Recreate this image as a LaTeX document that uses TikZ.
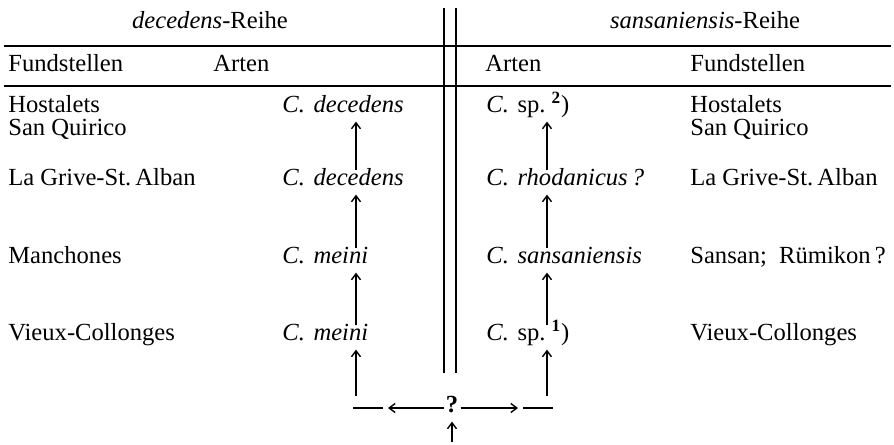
\documentclass[tikz,border=0pt]{standalone}
\usepackage{fontspec}
\setmainfont{Liberation Serif}
\usepackage{tikz}
\usetikzlibrary{arrows.meta, positioning}

\newcommand{\Cgen}{\textit{C.}\hspace{0.35em}}

\begin{document}
\begin{tikzpicture}[
  every node/.style={font=\fontsize{14}{16}\selectfont, inner sep=0pt,
                     text height=0.72em, text depth=0.22em},
  ort/.style={anchor=west},
  art/.style={anchor=west},
  rule/.style={line width=1pt},
  arr/.style={-{Straight Barb[length=1.2mm, width=1.8mm]}, line width=0.8pt,
              shorten >=0.1cm, shorten <=0.04cm},
  plain/.style={line width=0.8pt},
]
  \useasboundingbox (0,0) rectangle (17.88,-8.88);

  % head of the table
  \node (hleft)  at (4.2,-0.48)  {\textit{decedens}-Reihe};
  \node (hright) at (14.1,-0.48) {\textit{sansaniensis}-Reihe};
  \node[ort] (fl) at (0.16,-1.34)  {Fundstellen};
  \node[art] (al) at (4.26,-1.34)  {Arten};
  \node[art] (ar) at (9.7,-1.34)   {Arten};
  \node[ort] (fr) at (13.8,-1.34)  {Fundstellen};

  \draw[rule] (0.08,-0.92) -- (17.82,-0.92);
  \draw[rule] (0.08,-1.72) -- (17.82,-1.72);
  \draw[line width=0.8pt] (8.88,-0.16) -- (8.88,-7.46);
  \draw[line width=1.2pt] (9.12,-0.16) -- (9.12,-7.46);

  % left side
  \node[ort] (lo1)  at (0.16,-2.16) {Hostalets};
  \node[ort] (lo1b) at (0.16,-2.62) {San Quirico};
  \node[ort] (lo2)  at (0.16,-3.62) {La Grive-St.\,Alban};
  \node[ort] (lo3)  at (0.16,-5.18) {Manchones};
  \node[ort] (lo4)  at (0.16,-6.72) {Vieux-Collonges};

  \node[art] (la1) at (5.64,-2.16) {\Cgen\textit{decedens}};
  \node[art] (la2) at (5.64,-3.62) {\Cgen\textit{decedens}};
  \node[art] (la3) at (5.64,-5.18) {\Cgen\textit{meini}};
  \node[art] (la4) at (5.64,-6.72) {\Cgen\textit{meini}};

  % right side
  \node[art] (ra1) at (9.72,-2.16) {\Cgen sp.\ \textsuperscript{\textbf{2}})};
  \node[art] (ra2) at (9.72,-3.62) {\Cgen\textit{rhodanicus\,?}};
  \node[art] (ra3) at (9.72,-5.18) {\Cgen\textit{sansaniensis}};
  \node[art] (ra4) at (9.72,-6.72) {\Cgen sp.\ \textsuperscript{\textbf{1}})};

  \node[ort] (ro1)  at (13.8,-2.16) {Hostalets};
  \node[ort] (ro1b) at (13.8,-2.62) {San Quirico};
  \node[ort] (ro2)  at (13.8,-3.62) {La Grive-St.\,Alban};
  \node[ort] (ro3)  at (13.8,-5.18) {Sansan;\ \ Rümikon\,?};
  \node[ort] (ro4)  at (13.8,-6.72) {Vieux-Collonges};

  % common root
  \node (q) at (9.04,-8.16) {\textbf{?}};
  \coordinate (lcol)  at (7.12,0);
  \coordinate (rcol)  at (10.94,0);
  \coordinate (lfoot) at (7.12,-7.96);
  \coordinate (rfoot) at (10.94,-7.96);
  \coordinate (lhead) at (7.66,-8.16);
  \coordinate (rhead) at (10.46,-8.16);
  \coordinate (lbend) at (7.06,-8.16);
  \coordinate (rbend) at (11.06,-8.16);
  \coordinate (qfoot) at (9.04,-8.88);

  \draw[arr] (la2.north -| lcol) -- (la1.south -| lcol);
  \draw[arr] (la3.north -| lcol) -- (la2.south -| lcol);
  \draw[arr] (la4.north -| lcol) -- (la3.south -| lcol);
  \draw[arr] (lfoot) -- (la4.south -| lcol);

  \draw[arr] (ra2.north -| rcol) -- (ra1.south -| rcol);
  \draw[arr] (ra3.north -| rcol) -- (ra2.south -| rcol);
  \draw[arr] (ra4.north -| rcol) -- (ra3.south -| rcol);
  \draw[arr] (rfoot) -- (ra4.south -| rcol);

  \draw[arr] (q.west) -- (lhead);
  \draw[plain] (lhead) -- (lbend);
  \draw[arr] (q.east) -- (rhead);
  \draw[plain] (rhead) -- (rbend);
  \draw[arr] (qfoot) -- (q.south);
\end{tikzpicture}
\end{document}
